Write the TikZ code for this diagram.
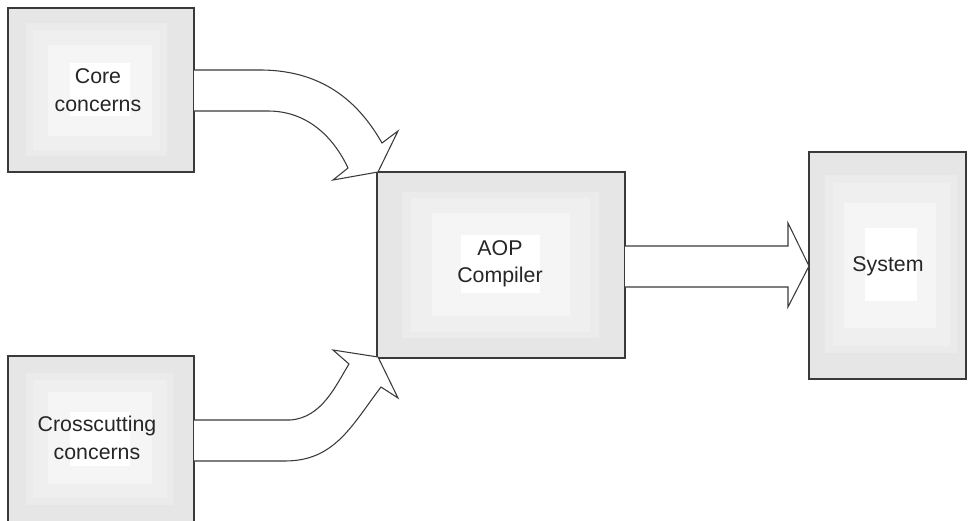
\documentclass[tikz,border=0pt]{standalone}
\usepackage{fontspec}
\setmainfont{Liberation Sans}
\definecolor{lA}{HTML}{E6E6E6}
\definecolor{lB}{HTML}{EBEBEB}
\definecolor{lC}{HTML}{EFEFEF}
\definecolor{lD}{HTML}{F5F5F5}
\definecolor{lE}{HTML}{FFFFFF}
\definecolor{edge}{HTML}{3A3A3A}
\begin{document}
\begin{tikzpicture}[x=0.75pt,y=-0.75pt,
  outerbox/.style={draw=edge,line width=0.9pt,fill=lA},
  blockarrow/.style={draw=edge,line width=0.8pt,fill=white,line join=miter},
  label/.style={align=center,font=\fontsize{16}{20.5}\selectfont,text=black!85,inner sep=0pt}]
\clip (0,0) rectangle (968,521);
\fill[white] (0,0) rectangle (968,521);

% Core concerns
\path[outerbox] (8,8) rectangle (194,172);
\fill[lB] (26,23) rectangle (167,156);
\fill[lC] (33,30) rectangle (160,150);
\fill[lD] (48,45) rectangle (152,136);
\fill[lE] (70,63) rectangle (130,116);
\node[label] (core) at (98,90) {Core\\concerns};

% Crosscutting concerns
\path[outerbox] (8,356) rectangle (194,540);
\fill[lB] (26,373) rectangle (173,505);
\fill[lC] (33,380) rectangle (167,498);
\fill[lD] (48,392) rectangle (152,484);
\fill[lE] (70,412) rectangle (130,466);
\node[label] (cross) at (97,438) {Crosscutting\\concerns};

% AOP Compiler
\path[outerbox] (377,172) rectangle (625,358);
\fill[lB] (402,192) rectangle (599,338);
\fill[lC] (411,198) rectangle (590,332);
\fill[lD] (432,213) rectangle (570,316);
\fill[lE] (461,235) rectangle (540,293);
\node[label] (aop) at (500,264) {AOP\\Compiler};

% System
\path[outerbox] (809,152) rectangle (966,379);
\fill[lB] (825,175) rectangle (957,353);
\fill[lC] (833,183) rectangle (950,346);
\fill[lD] (844,203) rectangle (936,328);
\fill[lE] (865,228) rectangle (917,301);
\node[label] (sys) at (888,266) {System};

% upper curved block arrow (Core -> AOP)
\path[blockarrow] (194,70) -- (260,70)
  .. controls (328,70) and (362,108) .. (382,143)
  -- (398,131) -- (378,172) -- (333,180) -- (348,168)
  .. controls (334,138) and (308,111) .. (268,111)
  -- (194,111);

% lower curved block arrow (Crosscutting -> AOP)
\path[blockarrow] (194,420) -- (290,420)
  .. controls (322,418) and (336,385) .. (349,364)
  -- (333,350) -- (378,357) -- (398,398) -- (381,387)
  .. controls (352,425) and (335,461) .. (285,461)
  -- (194,461);

% straight block arrow (AOP -> System)
\path[blockarrow] (625,246) -- (788,246) -- (788,223) -- (809,266)
  -- (788,307) -- (788,287) -- (625,287);
\end{tikzpicture}
\end{document}
